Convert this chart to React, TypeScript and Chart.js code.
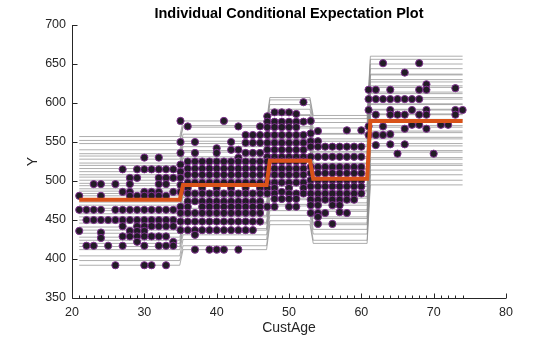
import React, { useEffect, useRef } from "react";
import { Chart, registerables } from "chart.js";

Chart.register(...registerables);

// Observed CustAge values (one column of points per age)
const scatterAges = [
  21, 22, 23, 24, 25, 26, 27, 28, 29, 30, 31, 32, 33, 34, 35, 36, 37, 38, 39, 40,
  41, 42, 43, 44, 45, 46, 47, 48, 49, 50, 51, 52, 53, 54, 55, 56, 57, 58, 59, 60,
  61, 62, 63, 64, 65, 66, 67, 68, 69, 70, 71, 72, 73, 74,
];

// Observed responses for each age above
const scatterY: number[][] = [
  [481, 463, 436],
  [463, 450, 417],
  [496, 463, 450, 417],
  [496, 481, 463, 450, 434, 427],
  [450, 417],
  [496, 463, 450, 392],
  [515, 486, 463, 450, 442, 429, 417],
  [504, 496, 486, 481, 463, 450, 436, 429],
  [515, 504, 481, 463, 450, 442, 436, 429, 422],
  [530, 515, 486, 481, 463, 450, 442, 436, 429, 417, 392],
  [515, 486, 481, 463, 450, 442, 429, 392],
  [530, 515, 504, 496, 486, 481, 463, 450, 442, 429, 417],
  [515, 504, 496, 481, 463, 450, 442, 429, 417, 392],
  [515, 504, 486, 463, 450, 442, 422, 417],
  [577, 550, 536, 521, 512, 504, 495, 486, 467, 459, 448, 437],
  [570, 525, 516, 508, 498, 491, 484, 474, 467, 459, 448, 437],
  [550, 536, 525, 516, 508, 498, 484, 474, 459, 448, 437, 431, 412],
  [525, 516, 508, 498, 491, 484, 474, 467, 459, 448, 437],
  [525, 516, 508, 498, 484, 474, 467, 459, 448, 437, 412],
  [542, 536, 525, 516, 508, 498, 491, 484, 474, 467, 459, 448, 437, 412],
  [577, 525, 516, 508, 498, 484, 474, 467, 459, 448, 437, 412],
  [550, 540, 525, 516, 508, 498, 491, 484, 474, 467, 459, 448, 437],
  [570, 540, 530, 525, 516, 508, 498, 484, 474, 467, 459, 448, 437, 412],
  [559, 549, 536, 525, 516, 508, 498, 491, 484, 474, 467, 459, 448, 437],
  [559, 549, 536, 525, 516, 508, 498, 484, 474, 467, 459, 448, 437],
  [570, 559, 549, 536, 525, 516, 508, 498, 491, 484, 474, 467, 459, 448],
  [583, 576, 569, 559, 549, 540, 531, 525, 516, 508, 498, 491, 484, 467],
  [588, 576, 569, 559, 549, 540, 531, 525, 516, 508, 498, 491, 484, 477, 467],
  [588, 576, 569, 559, 549, 540, 531, 525, 516, 508, 498, 486, 477],
  [588, 576, 569, 559, 549, 540, 531, 525, 516, 508, 498, 491, 484, 477, 467],
  [586, 576, 569, 559, 549, 540, 531, 525, 516, 508, 498, 484, 477, 467],
  [601, 576, 559, 549, 540, 531, 525, 516, 508, 498, 491, 484],
  [577, 561, 551, 544, 531, 518, 510, 501, 493, 484, 476, 469, 459],
  [564, 551, 544, 531, 518, 510, 501, 493, 484, 476, 469, 459, 454, 445],
  [544, 531, 518, 510, 501, 493, 484, 476, 459],
  [544, 531, 518, 510, 501, 493, 484, 476, 469, 445],
  [544, 531, 518, 510, 501, 493, 484, 476, 469, 460],
  [565, 544, 531, 518, 510, 501, 493, 484, 476, 459],
  [544, 531, 518, 510, 501, 493, 484, 476],
  [565, 544, 531, 518, 510, 501, 493, 484],
  [617, 605, 591, 570, 559],
  [617, 605, 585, 559, 546],
  [651, 605, 570, 559],
  [617, 605, 591, 585, 560, 547],
  [605, 585, 535],
  [639, 605, 585, 567, 547],
  [605, 591, 572],
  [651, 617, 605, 585, 572],
  [624, 617, 591, 585, 567],
  [535],
  [572],
  [572],
  [619, 591, 585],
  [591],
];

// x positions where each ICE / PD curve is evaluated (step edges)
const curveX = [21, 34.9, 35.35, 46.9, 47.35, 52.9, 53.35, 60.8, 61.25, 74];

// ICE curve levels on each of the five flat segments
const iceSeg1 = [557, 552, 548, 540, 535, 532, 528, 523, 520, 516, 512, 508, 505, 501, 497, 494, 490, 487, 484, 481, 477, 473, 469, 465, 462, 458, 454, 450, 446, 441, 437, 433, 428, 424, 420, 416, 412, 404, 398, 392];
const iceSeg2 = [577, 571, 569, 560, 556, 551, 548, 544, 539, 537, 531, 529, 524, 522, 516, 515, 509, 508, 503, 502, 496, 494, 488, 486, 481, 479, 473, 471, 465, 462, 456, 454, 447, 445, 439, 437, 431, 425, 417, 412];
const iceSeg3 = [607, 604, 598, 592, 585, 584, 578, 575, 570, 568, 562, 560, 555, 553, 547, 546, 540, 539, 534, 533, 527, 525, 519, 517, 512, 510, 504, 502, 496, 493, 487, 485, 478, 476, 470, 468, 462, 456, 449, 444];
const iceSeg4 = [584, 580, 575, 568, 561, 560, 554, 551, 546, 544, 538, 536, 531, 529, 523, 522, 516, 515, 510, 509, 503, 501, 495, 493, 488, 486, 480, 478, 472, 469, 463, 461, 454, 452, 446, 444, 438, 432, 424, 420];
const iceSeg5 = [660, 656, 650, 644, 637, 636, 630, 627, 622, 620, 614, 612, 607, 605, 599, 598, 592, 591, 586, 585, 579, 577, 571, 569, 564, 562, 556, 554, 548, 545, 539, 537, 530, 528, 522, 520, 514, 508, 501, 495];

// Partial dependence levels on the five segments
const pdLevels = [476, 495, 526, 503, 577];

const xTicks = [20, 30, 40, 50, 60, 70, 80];
const yTicks = [350, 400, 450, 500, 550, 600, 650, 700];

const titleText = "Individual Conditional Expectation Plot";
const xLabel = "CustAge";
const yLabel = "Y";

const FONT = "'Liberation Sans', Arial, Helvetica, sans-serif";
const AXIS_COLOR = "#262626";

function stepPoints(levels: number[]) {
  return curveX.map((x, i) => ({ x, y: levels[Math.floor(i / 2)] }));
}

const decorPlugin = {
  id: "matlabDecor",
  afterDraw(chart: any) {
    const { ctx, chartArea, scales } = chart;
    const { left, right, top, bottom } = chartArea;
    const xs = scales.x;
    const ys = scales.y;
    ctx.save();
    ctx.strokeStyle = AXIS_COLOR;
    ctx.lineWidth = 1;
    ctx.beginPath();
    const L = Math.round(left) + 0.5;
    const B = Math.round(bottom) + 0.5;
    ctx.moveTo(L, top);
    ctx.lineTo(L, B);
    ctx.lineTo(right, B);
    xTicks.forEach((v) => {
      const px = Math.round(xs.getPixelForValue(v)) + 0.5;
      ctx.moveTo(px, B);
      ctx.lineTo(px, B - 5);
    });
    yTicks.forEach((v) => {
      const py = Math.round(ys.getPixelForValue(v)) + 0.5;
      ctx.moveTo(L, py);
      ctx.lineTo(L + 5, py);
    });
    scatterAges.forEach((v) => {
      const px = Math.round(xs.getPixelForValue(v)) + 0.5;
      ctx.moveTo(px, B);
      ctx.lineTo(px, B - 3);
    });
    ctx.stroke();

    ctx.fillStyle = "#000";
    ctx.font = `bold 14.5px ${FONT}`;
    ctx.textAlign = "center";
    ctx.textBaseline = "middle";
    ctx.fillText(titleText, (left + right) / 2, 14);

    ctx.fillStyle = AXIS_COLOR;
    ctx.font = `14px ${FONT}`;
    ctx.fillText(xLabel, (left + right) / 2, 328);
    ctx.translate(33, (top + bottom) / 2);
    ctx.rotate(-Math.PI / 2);
    ctx.fillText(yLabel, 0, 0);
    ctx.restore();
  },
};

export default function App() {
  const ref = useRef<HTMLCanvasElement | null>(null);
  useEffect(() => {
    if (!ref.current) return;
    const datasets: any[] = [];
    datasets.push({
      type: "line",
      data: stepPoints(pdLevels),
      borderColor: "rgb(217,83,25)",
      borderWidth: 4,
      pointRadius: 0,
      showLine: true,
      order: 0,
    });
    const pts: { x: number; y: number }[] = [];
    scatterAges.forEach((age, i) => {
      scatterY[i].forEach((y) => pts.push({ x: age, y }));
    });
    datasets.push({
      type: "scatter",
      data: pts,
      backgroundColor: "#211c25",
      borderColor: "#7e2f8e",
      borderWidth: 1,
      pointRadius: 3.6,
      order: 1,
    });
    iceSeg1.forEach((_, i) => {
      datasets.push({
        type: "line",
        data: stepPoints([iceSeg1[i], iceSeg2[i], iceSeg3[i], iceSeg4[i], iceSeg5[i]]),
        borderColor: "rgba(140,140,140,0.7)",
        borderWidth: 1,
        pointRadius: 0,
        showLine: true,
        order: 2,
      });
    });

    const chart = new Chart(ref.current, {
      type: "scatter",
      data: { datasets },
      options: {
        animation: false,
        responsive: false,
        devicePixelRatio: 1,
        events: [],
        layout: { padding: { left: 0, right: 54, top: 25, bottom: 0 } },
        plugins: { legend: { display: false }, tooltip: { enabled: false }, title: { display: false } },
        scales: {
          x: {
            type: "linear",
            min: 20,
            max: 80,
            afterFit: (s: any) => {
              s.height = 39;
            },
            afterBuildTicks: (s: any) => {
              s.ticks = xTicks.map((v) => ({ value: v }));
            },
            grid: { display: false, drawTicks: false },
            border: { display: false },
            ticks: { color: AXIS_COLOR, font: { size: 12.5, family: FONT }, padding: 7, maxRotation: 0 },
          },
          y: {
            type: "linear",
            min: 350,
            max: 700,
            afterFit: (s: any) => {
              s.width = 72;
            },
            afterBuildTicks: (s: any) => {
              s.ticks = yTicks.map((v) => ({ value: v }));
            },
            grid: { display: false, drawTicks: false },
            border: { display: false },
            ticks: { color: AXIS_COLOR, font: { size: 12.5, family: FONT }, padding: 6 },
          },
        },
      },
      plugins: [decorPlugin],
    });
    return () => chart.destroy();
  }, []);
  return (
    <div style={{ position: "fixed", left: 0, top: 0, width: 560, height: 337, background: "#fff" }}>
      <canvas ref={ref} width={560} height={337} style={{ width: 560, height: 337 }} />
    </div>
  );
}
